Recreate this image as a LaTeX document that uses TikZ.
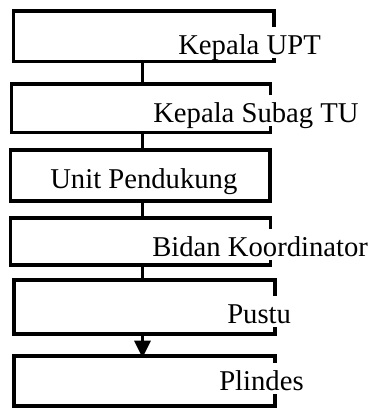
\documentclass[tikz,border=0pt]{standalone}
\usepackage{fontspec}
\setmainfont{Liberation Serif}
\usetikzlibrary{arrows.meta}

\begin{document}
\begin{tikzpicture}[x=0.75pt,y=0.75pt,yscale=-1,xscale=1,
  unitbox/.style={rectangle,inner sep=0pt,outer sep=0pt},
  unitlabel/.style={anchor=base west,inner sep=0pt,text height=20pt,text depth=2.5pt,font=\fontsize{21.5}{25}\selectfont},
  border/.style={line width=2.6pt},
  link/.style={line width=2.5pt}]
	\useasboundingbox (0,0) rectangle (375,408);
	% boxes
	\node [unitbox,minimum width=195.4pt,minimum height=37.9pt] (upt) at (143.75,36.25) {};
	\node [unitbox,minimum width=194.3pt,minimum height=36.4pt] (subag) at (141,108.25) {};
	\node [unitbox,minimum width=194.8pt,minimum height=38.3pt] (unit) at (140.15,175.5) {};
	\node [unitbox,minimum width=195pt,minimum height=35.3pt] (bidan) at (140.4,241.5) {};
	\node [unitbox,minimum width=195.8pt,minimum height=40.5pt] (pustu) at (144.5,307) {};
	\node [unitbox,minimum width=195.8pt,minimum height=37.5pt] (plindes) at (144.5,381) {};

	% labels
	\node [unitlabel] (upt-txt) at (178,54) {Kepala UPT};
	\node [unitlabel] (subag-txt) at (153,122) {Kepala Subag TU};
	\node [unitlabel] (unit-txt) at (50,188) {Unit Pendukung};
	\node [unitlabel] (bidan-txt) at (152,256) {Bidan Koordinator};
	\node [unitlabel] (pustu-txt) at (227,323) {Pustu};
	\node [unitlabel] (plindes-txt) at (219,390) {Plindes};

	% borders, right side broken where the label runs over it
	\draw [border] (unit.north west) rectangle (unit.south east);
	\foreach \b in {upt,subag,bidan,pustu,plindes}
		\draw [border] (\b-txt.north -| \b.east) -- (\b.north east) -- (\b.north west) -- (\b.south west) -- (\b.south east) -- (\b-txt.south -| \b.east);

	% connectors
	\coordinate (spine) at (142.5,0);
	\draw [link] (upt.south -| spine) -- (subag.north -| spine);
	\draw [link] (subag.south -| spine) -- (unit.north -| spine);
	\draw [link] (unit.south -| spine) -- (bidan.north -| spine);
	\draw [link] (bidan.south -| spine) -- (pustu.north -| spine);
	\draw [link,-{Triangle[length=12.75pt,width=12pt]}] (pustu.south -| spine) -- ([yshift=1.3pt]plindes.north -| spine);
\end{tikzpicture}
\end{document}
